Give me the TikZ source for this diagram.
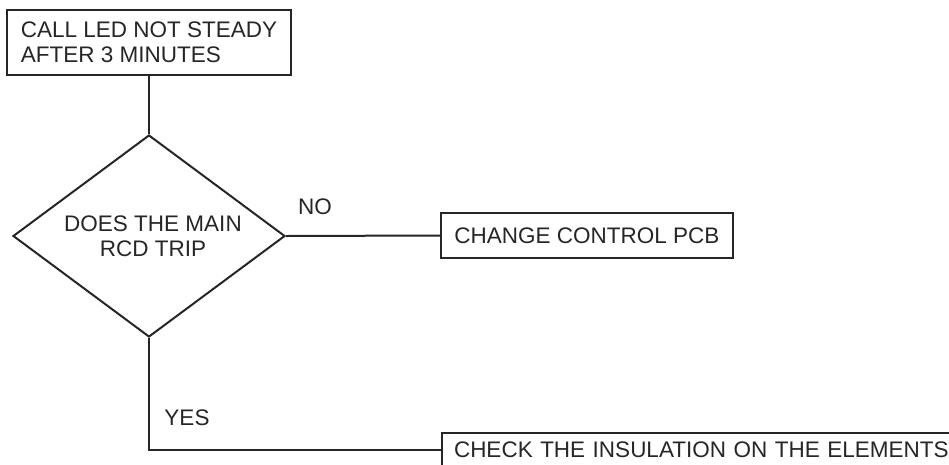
\documentclass[tikz,border=0pt]{standalone}
\usepackage{fontspec}
\setmainfont{Liberation Sans}
\usetikzlibrary{shapes.geometric}
\begin{document}
\begin{tikzpicture}[x=1pt,y=1pt,
  every node/.style={font=\fontsize{22.5}{25.5}\selectfont, text=black!85},
  box/.style={draw=black!85, line width=2pt, rectangle, inner ysep=0pt},
  conn/.style={draw=black!85, line width=2pt},
  lbl/.style={inner sep=0pt}]
\useasboundingbox (0,0) rectangle (949,-464);
\clip (0,0) rectangle (949,-464);
\node[box, minimum width=284pt, minimum height=65pt, inner xsep=13pt, align=left] (start) at (149,-42.5) {CALL LED NOT STEADY\\AFTER 3 MINUTES};
\node[diamond, draw=black!85, line width=2pt, minimum width=272pt, minimum height=202pt, inner sep=0pt, aspect=1.347] (dec) at (149,-236) {};
\node[align=center, lbl] (dect) at (153,-236) {DOES THE MAIN\\RCD TRIP};
\node[box, minimum width=292pt, minimum height=45pt] (chg) at (587,-235.5) {CHANGE CONTROL PCB};
\node[box, anchor=north west, minimum width=600pt, minimum height=34pt, inner xsep=12pt, text width=576pt, align=left] (chk) at (441,-432) {CHECK THE INSULATION ON THE ELEMENTS};
\node[lbl] (no) at (315,-207) {NO};
\node[lbl] (yes) at (187,-418) {YES};
\draw[conn] (start.south) -- (dec.north);
\draw[conn] (dec.east) -- (chg.west);
\draw[conn] (dec.south) |- (chk.west);
\end{tikzpicture}
\end{document}
